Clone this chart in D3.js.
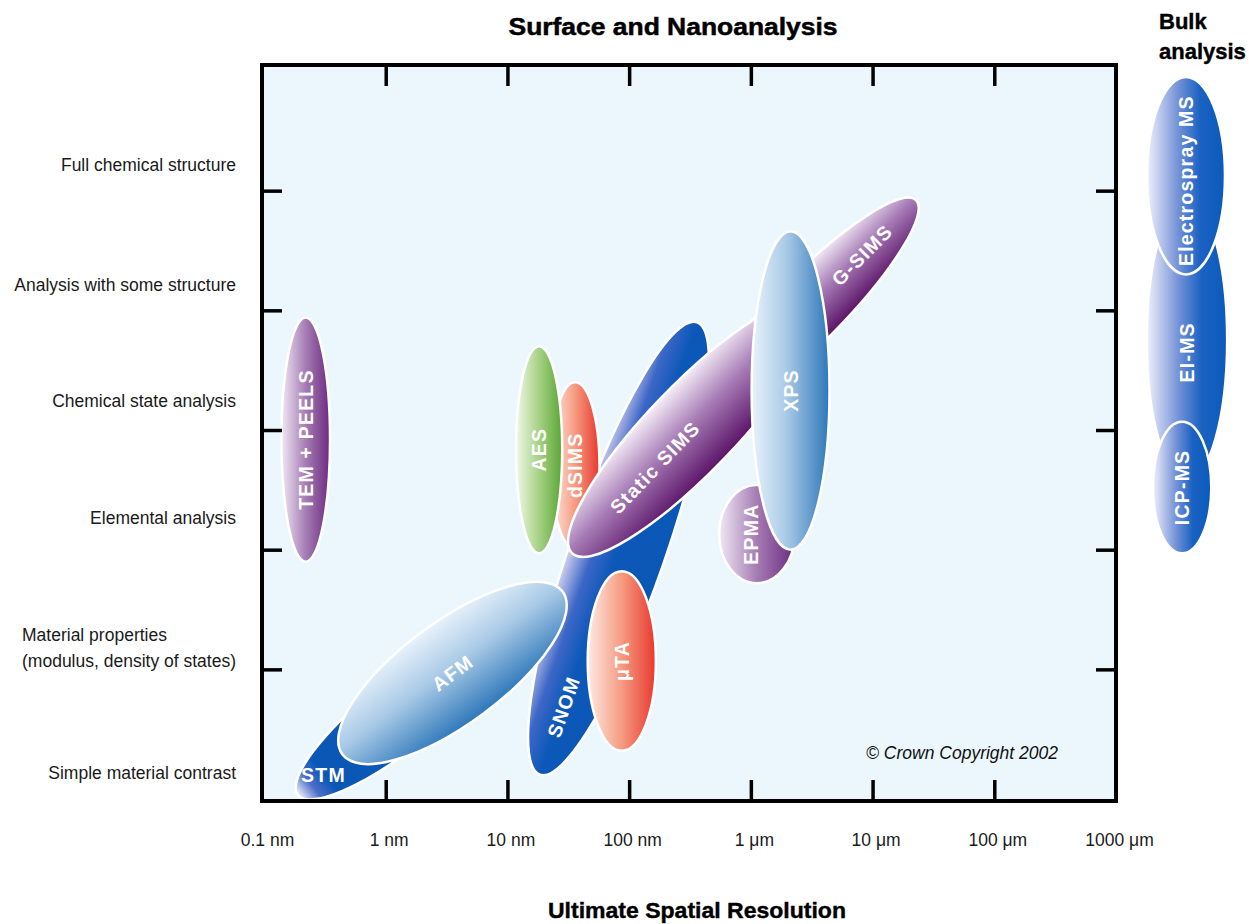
<!DOCTYPE html>
<html>
<head>
<meta charset="utf-8">
<script src="https://cdnjs.cloudflare.com/ajax/libs/d3/7.8.5/d3.min.js"></script>
<style>
body { margin: 0; background: #fff; }
svg { display: block; font-family: Arial, "Liberation Sans", Helvetica, sans-serif; }
</style>
</head>
<body>
<svg id="chart" width="1249" height="924"></svg>
<script>
// ---- data ----
// analysis levels, bottom to top
var levels = ["Simple material contrast",
              "Material properties\n(modulus, density of states)",
              "Elemental analysis",
              "Chemical state analysis",
              "Analysis with some structure",
              "Full chemical structure"];

// resolution ticks in nm
var resolutionTicks = [0.1, 1, 10, 100, 1e3, 1e4, 1e5, 1e6];
var resolutionLabels = ["0.1 nm", "1 nm", "10 nm", "100 nm", "1 \u03bcm", "10 \u03bcm", "100 \u03bcm", "1000 \u03bcm"];

// techniques, in drawing order (back to front). each one is an ellipse running
// from (resFrom, levelFrom) to (resTo, levelTo), breadth = half width in decades
var techniques = ["SNOM", "STM", "AFM", "\u03bcTA", "dSIMS", "AES", "G-SIMS", "Static SIMS",
                  "EPMA", "XPS", "TEM + PEELS", "EI-MS", "Electrospray MS", "ICP-MS"];
var resFrom   = [18.5, 0.19, 0.44, 87, 36, 18.2, 382, 34, 1120, 2120, 0.22, 3.83e6, 3.76e6, 3.49e6];
var resTo     = [361, 9.1, 28.4, 87, 36, 18.2, 22750, 3180, 1120, 2120, 0.22, 3.83e6, 3.76e6, 3.49e6];
var levelFrom = [0.12, -0.05, 0.29, 0.32, 2.01, 1.97, 3.09, 1.97, 1.72, 2.0, 1.9, 2.58, 4.3, 1.97];
var levelTo   = [3.9, 1.3, 1.65, 1.82, 3.4, 3.7, 4.92, 4.05, 2.54, 4.66, 3.94, 4.93, 5.95, 3.07];
var breadth   = [0.39, 0.285, 0.42, 0.28, 0.2, 0.19, 0.28, 0.36, 0.31, 0.32, 0.2, 0.33, 0.32, 0.24];
var family    = ["blue", "stm", "sky", "red", "red", "green", "plum", "plum",
                 "purple", "sky", "purple", "bulk", "bulk", "bulk"];

// ---- styles / layout ----
var palettes = {
  blue:   [[0, "#d4d2f0"], [0.26, "#3d67c7"], [0.5, "#0c58b8"], [1, "#0a57b6"]],
  stm:    [[0, "#f1f0fb"], [0.5, "#4a6ec8"], [1, "#0a57b6"]],
  sky:    [[0, "#e8f2fb"], [0.45, "#a8c9e6"], [1, "#2d77b9"]],
  red:    [[0, "#fdebe4"], [0.5, "#f69a80"], [1, "#e8382e"]],
  green:  [[0, "#f1f8ea"], [0.5, "#a6d184"], [1, "#59a634"]],
  plum:   [[0, "#f6eef8"], [0.45, "#a77cb6"], [1, "#5a1367"]],
  purple: [[0, "#f1e8f4"], [0.5, "#a57cb4"], [1, "#6c2a80"]],
  bulk:   [[0, "#f0f0fb"], [0.4, "#7391d7"], [0.68, "#1a62c2"], [1, "#0a5abb"]]
};
var gradVector = { STM: [0.0, 0.5, 0.13, 0.5] };
var labelAlong = { "SNOM": -0.7, "STM": -0.75, "G-SIMS": 0.5, "Static SIMS": -0.31,
                   "EI-MS": -0.09, "Electrospray MS": -0.05 };
var labelAcross = { "EPMA": -0.16 };
var labelFlat = { "STM": true };
var levelLabelNudge = [8, 3, -8, -5, -1, -2];

var svg = d3.select("#chart");
var x = d3.scaleLog().domain([0.1, 1e6]).range([264, 1116]);
var y = d3.scaleLinear().domain([-0.1, 6.05]).range([801, 65]);
var plotLeft = 262, plotRight = x(1e6), plotTop = y(6.05), plotBottom = y(-0.1);
var decadePx = x(10) - x(1);

var defs = svg.append("defs");

// plot background
svg.append("rect")
  .attr("x", plotLeft).attr("y", plotTop)
  .attr("width", plotRight - plotLeft).attr("height", plotBottom - plotTop)
  .attr("fill", "#ecf7fd");

// technique ellipses
var shapes = techniques.map(function(name, i){
  var p1 = [x(resFrom[i]), y(levelFrom[i])];
  var p2 = [x(resTo[i]), y(levelTo[i])];
  var dx = p2[0] - p1[0], dy = p2[1] - p1[1];
  var len = Math.sqrt(dx * dx + dy * dy);
  return {
    name: name, i: i,
    cx: (p1[0] + p2[0]) / 2, cy: (p1[1] + p2[1]) / 2,
    a: len / 2, b: breadth[i] * decadePx,
    ang: Math.atan2(dy, dx) * 180 / Math.PI,
    dir: [dx / len, dy / len]
  };
});

shapes.forEach(function(s){
  var v = gradVector[s.name] || [0, 0, 0, 1];
  var g = defs.append("linearGradient")
    .attr("id", "grad" + s.i)
    .attr("x1", v[0]).attr("y1", v[1]).attr("x2", v[2]).attr("y2", v[3]);
  palettes[family[s.i]].forEach(function(st){
    g.append("stop").attr("offset", st[0]).attr("stop-color", st[1]);
  });
});

var shapeG = svg.append("g").attr("class", "shapes");
shapeG.selectAll(".tech")
  .data(shapes)
  .enter().append("ellipse")
    .attr("class", "tech")
    .attr("transform", function(d){ return "translate(" + d.cx + "," + d.cy + ") rotate(" + d.ang + ")"; })
    .attr("rx", function(d){ return d.a; })
    .attr("ry", function(d){ return d.b; })
    .attr("fill", function(d){ return "url(#grad" + d.i + ")"; })
    .attr("stroke", "#fff")
    .attr("stroke-width", 2.5);

// technique labels (drawn after all shapes)
shapeG.selectAll(".tech-label")
  .data(shapes)
  .enter().append("text")
    .attr("class", "tech-label")
    .attr("transform", function(d){
      var t = labelAlong[d.name] || 0, c = labelAcross[d.name] || 0;
      var px = d.cx + t * d.a * d.dir[0] - c * d.b * d.dir[1];
      var py = d.cy + t * d.a * d.dir[1] + c * d.b * d.dir[0];
      var rot = labelFlat[d.name] ? 0 : d.ang;
      return "translate(" + px + "," + py + ") rotate(" + rot + ")";
    })
    .attr("text-anchor", "middle")
    .attr("dominant-baseline", "central")
    .attr("fill", "#fff")
    .attr("font-weight", "bold")
    .attr("font-size", 19.5)
    .attr("letter-spacing", 1.2)
    .text(function(d){ return d.name; });

// plot border
svg.append("rect")
  .attr("x", plotLeft).attr("y", plotTop)
  .attr("width", plotRight - plotLeft).attr("height", plotBottom - plotTop)
  .attr("fill", "none").attr("stroke", "#000").attr("stroke-width", 4);

// inward ticks on all four sides
var innerTicks = resolutionTicks.slice(1, -1);
var levelTicks = [1, 2, 3, 4, 5];
function styleTicks(g){
  g.select(".domain").remove();
  g.selectAll(".tick line").attr("stroke", "#000").attr("stroke-width", 3.5);
  g.selectAll(".tick text").remove();
}
svg.append("g").attr("transform", "translate(0," + plotBottom + ")")
  .call(d3.axisBottom(x).tickValues(innerTicks).tickSize(-21)).call(styleTicks);
svg.append("g").attr("transform", "translate(0," + plotTop + ")")
  .call(d3.axisTop(x).tickValues(innerTicks).tickSize(-21)).call(styleTicks);
svg.append("g").attr("transform", "translate(" + plotLeft + ",0)")
  .call(d3.axisLeft(y).tickValues(levelTicks).tickSize(-20)).call(styleTicks);
svg.append("g").attr("transform", "translate(" + plotRight + ",0)")
  .call(d3.axisRight(y).tickValues(levelTicks).tickSize(-20)).call(styleTicks);

// resolution labels
var xLab = svg.append("g").attr("transform", "translate(3," + plotBottom + ")")
  .call(d3.axisBottom(x).tickValues(resolutionTicks)
        .tickFormat(function(d, i){ return resolutionLabels[i]; })
        .tickSize(0).tickPadding(33));
xLab.select(".domain").remove();
xLab.selectAll(".tick text")
  .attr("font-family", "Arial, 'Liberation Sans', sans-serif")
  .attr("font-size", 17.5).attr("fill", "#1a1a1a");

// level labels (multi-line labels are left aligned to their longest line)
levels.forEach(function(lab, i){
  var lines = lab.split("\n");
  var cy = y(i + 0.2) + levelLabelNudge[i];
  var g = svg.append("g");
  var texts = lines.map(function(line, k){
    return g.append("text")
      .attr("y", cy + (k - (lines.length - 1) / 2) * 26)
      .attr("dominant-baseline", "central")
      .attr("font-size", 17.5).attr("fill", "#1a1a1a")
      .text(line);
  });
  var w = d3.max(texts, function(t){ return t.node().getComputedTextLength(); });
  texts.forEach(function(t){ t.attr("x", plotLeft - 26 - w); });
});

// titles
svg.append("text")
  .attr("x", 673).attr("y", 35)
  .attr("text-anchor", "middle")
  .attr("font-size", 24).attr("font-weight", "bold")
  .attr("stroke", "#000").attr("stroke-width", 0.5)
  .attr("textLength", 329).attr("lengthAdjust", "spacingAndGlyphs")
  .text("Surface and Nanoanalysis");

svg.append("text")
  .attr("x", 697).attr("y", 918)
  .attr("text-anchor", "middle")
  .attr("font-size", 22).attr("font-weight", "bold")
  .attr("stroke", "#000").attr("stroke-width", 0.4)
  .attr("textLength", 298).attr("lengthAdjust", "spacingAndGlyphs")
  .text("Ultimate Spatial Resolution");

var bulk = svg.append("text")
  .attr("font-size", 22).attr("font-weight", "bold")
  .attr("stroke", "#000").attr("stroke-width", 0.4);
bulk.append("tspan").attr("x", 1159).attr("y", 29).text("Bulk");
bulk.append("tspan").attr("x", 1159).attr("y", 59).text("analysis");

// copyright note
svg.append("text")
  .attr("x", plotRight - 58).attr("y", plotBottom - 42)
  .attr("text-anchor", "end")
  .attr("font-size", 17.5).attr("font-style", "italic").attr("fill", "#111")
  .text("\u00a9 Crown Copyright 2002");
</script>
</body>
</html>
